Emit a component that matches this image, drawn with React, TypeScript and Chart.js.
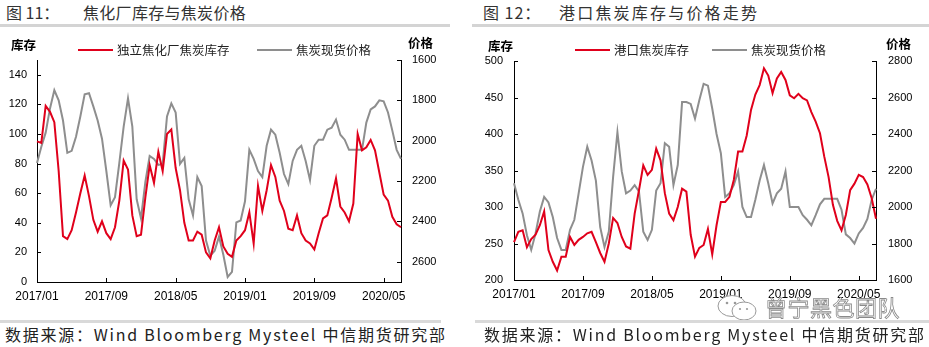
import React, { useEffect, useRef } from 'react';
import { Chart, registerables } from 'chart.js';

Chart.register(...registerables);

// Half-month categories from 2017/01 to 2020/07
const categories: string[] = (() => {
  const out: string[] = [];
  for (let i = 0; i <= 84; i++) {
    const m = Math.floor(i / 2);
    const y = 2017 + Math.floor(m / 12);
    const mm = (m % 12) + 1;
    out.push(`${y}/${String(mm).padStart(2, '0')}`);
  }
  return out;
})();
const tickIndexes = [0, 16, 32, 48, 64, 80];

// Fig 11: independent coking plant coke inventory (left axis) & coke spot price (right axis, reversed)
const plantInventory = [
  95, 94, 119, 115, 108, 75, 31, 29, 35, 47, 60, 72, 58, 42, 34, 41, 33, 29, 37, 55,
  82, 76, 45, 31, 32, 57, 79, 67, 88, 75, 100, 103, 77, 62, 40, 28, 28, 34, 32, 20,
  16, 28, 37, 24, 19, 17, 28, 31, 35, 47, 26, 65, 48, 62, 79, 71, 55, 48, 36, 35,
  45, 33, 28, 26, 22, 33, 43, 45, 57, 70, 51, 47, 41, 53, 100, 89, 91, 96, 89, 74,
  59, 55, 44, 39, 37,
];
const plantPrice = [
  2110, 2030, 1960, 1840, 1750, 1800, 1900, 2060, 2050, 1980, 1880, 1770, 1765, 1830, 1900, 1990, 2150, 2320, 2280, 2110,
  1930, 1790, 1930, 2290, 2385, 2205, 2075, 2090, 2120, 2115, 1880, 1815, 1860, 2115, 2085, 2290, 2370, 2180, 2225, 2495,
  2570, 2545, 2475, 2565, 2675, 2650, 2405, 2395, 2300, 2045, 2090, 2150, 2180, 2025, 1945, 1970, 2060, 2165, 2215, 2100,
  2045, 2025, 2100, 2195, 2025, 1995, 1995, 1945, 1935, 1895, 1970, 1995, 2045, 2045, 2045, 2045, 1910, 1845, 1830, 1800,
  1805, 1860, 1950, 2045, 2090,
];

// Fig 12: port coke inventory (left axis) & coke spot price (right axis)
const portInventory = [
  252, 266, 268, 245, 256, 262, 275, 294, 241, 225, 213, 232, 232, 259, 248, 255, 259, 264, 266, 252,
  237, 225, 250, 285, 278, 259, 246, 243, 291, 323, 357, 344, 351, 380, 364, 319, 291, 282, 300, 325,
  321, 262, 232, 244, 248, 270, 235, 275, 307, 307, 314, 337, 376, 376, 398, 433, 454, 467, 490, 480,
  456, 476, 485, 474, 453, 449, 455, 449, 446, 430, 417, 401, 369, 341, 303, 281, 268, 289, 323, 332,
  344, 341, 331, 312, 284,
];
const portPrice = [
  2130, 2040, 1965, 1845, 1765, 1855, 1975, 2055, 2025, 1945, 1830, 1765, 1765, 1875, 1930, 2075, 2220, 2330, 2255, 2145,
  1890, 1780, 1865, 2165, 2410, 2195, 2075, 2090, 2120, 2085, 1865, 1820, 1875, 2090, 2130, 2350, 2330, 2120, 2230, 2575,
  2575, 2565, 2485, 2585, 2675, 2665, 2540, 2400, 2295, 2055, 2075, 2120, 2195, 2000, 1945, 1945, 2040, 2145, 2230, 2130,
  2020, 2075, 2100, 2195, 2000, 2000, 2000, 1955, 1930, 1900, 1955, 2015, 2045, 2045, 2045, 2045, 1985, 1850, 1830, 1800,
  1855, 1885, 1935, 2040, 2100,
];

const RED = '#e0001b';
const GRAY = '#8e8e8e';
const TICK_FONT = "'Liberation Sans', Arial, sans-serif";
const CJK = "'Noto Sans CJK SC', 'Noto Sans', sans-serif";

const inwardTicks = {
  id: 'inwardTicks',
  afterDraw(chart: any) {
    const { ctx, chartArea: ca, scales } = chart;
    ctx.save();
    ctx.strokeStyle = '#000';
    ctx.lineWidth = 1;
    ctx.beginPath();
    const x = scales.x;
    for (const idx of tickIndexes) {
      const px = Math.round(x.getPixelForValue(idx)) + 0.5;
      ctx.moveTo(px, ca.bottom);
      ctx.lineTo(px, ca.bottom - 4);
    }
    const yL = scales.yL;
    for (const t of yL.ticks) {
      const py = Math.round(yL.getPixelForValue(t.value)) + 0.5;
      ctx.moveTo(ca.left, py);
      ctx.lineTo(ca.left + 4, py);
    }
    const yR = scales.yR;
    for (const t of yR.ticks) {
      const py = Math.round(yR.getPixelForValue(t.value)) + 0.5;
      ctx.moveTo(ca.right, py);
      ctx.lineTo(ca.right - 4, py);
    }
    ctx.stroke();
    ctx.restore();
  },
};

type Cfg = {
  inv: number[];
  price: number[];
  invLabel: string;
  leftMin: number; leftMax: number; leftStep: number;
  rightMin: number; rightMax: number; rightStep: number;
  reverse: boolean;
  leftW: number; rightW: number; bottomH: number; padTop: number;
  leftPad: number; rightPad: number;
};

const plainNumber = (v: any) => String(v);

function makeConfig(c: Cfg): any {
  return {
    type: 'line',
    data: {
      labels: categories,
      datasets: [
        { label: c.invLabel, data: c.inv, yAxisID: 'yL', borderColor: RED, borderWidth: 2, pointRadius: 0, tension: 0 },
        { label: '焦炭现货价格', data: c.price, yAxisID: 'yR', borderColor: GRAY, borderWidth: 2, pointRadius: 0, tension: 0 },
      ],
    },
    options: {
      animation: false,
      responsive: false,
      maintainAspectRatio: false,
      layout: { padding: { top: c.padTop, left: 0, right: 0, bottom: 0 } },
      plugins: { legend: { display: false }, tooltip: { enabled: false } },
      scales: {
        x: {
          type: 'category',
          offset: false,
          grid: { display: false, drawTicks: false },
          border: { display: true, color: '#000', width: 1 },
          ticks: {
            autoSkip: false,
            maxRotation: 0,
            minRotation: 0,
            padding: 7,
            color: '#000',
            font: { family: TICK_FONT, size: 12 },
            callback: (_v: any, i: number) => (tickIndexes.includes(i) ? categories[i] : ''),
          },
          afterFit: (s: any) => { s.height = c.bottomH; },
        },
        yL: {
          type: 'linear',
          position: 'left',
          min: c.leftMin,
          max: c.leftMax,
          grid: { display: false, drawTicks: false },
          border: { display: true, color: '#000', width: 1 },
          ticks: { stepSize: c.leftStep, includeBounds: false, padding: c.leftPad, color: '#000', font: { family: TICK_FONT, size: 11 }, callback: plainNumber },
          afterFit: (s: any) => { s.width = c.leftW; },
        },
        yR: {
          type: 'linear',
          position: 'right',
          min: c.rightMin,
          max: c.rightMax,
          reverse: c.reverse,
          grid: { display: false, drawTicks: false },
          border: { display: true, color: '#000', width: 1 },
          ticks: { stepSize: c.rightStep, includeBounds: false, padding: c.rightPad, color: '#000', font: { family: TICK_FONT, size: 11 }, callback: plainNumber },
          afterFit: (s: any) => { s.width = c.rightW; },
        },
      },
    },
    plugins: [inwardTicks],
  };
}

function ChartCanvas({ cfg, left, top, width, height }: { cfg: Cfg; left: number; top: number; width: number; height: number }) {
  const ref = useRef<HTMLCanvasElement>(null);
  useEffect(() => {
    if (!ref.current) return;
    const chart = new Chart(ref.current, makeConfig(cfg));
    return () => chart.destroy();
  }, []);
  return (
    <canvas ref={ref} width={width} height={height} style={{ position: 'absolute', left, top, width, height }} />
  );
}

const abs = (s: React.CSSProperties): React.CSSProperties => ({ position: 'absolute', whiteSpace: 'nowrap', ...s });

function LegendItem({ x, y, color, text }: { x: number; y: number; color: string; text: string }) {
  return (
    <>
      <div style={abs({ left: x, top: y - 1, width: 35, height: 2, background: color })} />
      <div style={abs({ left: x + 39, top: y - 9, fontFamily: CJK, fontSize: 12.5, lineHeight: '18px', color: '#222' })}>{text}</div>
    </>
  );
}

export default function App() {
  useEffect(() => {
    document.body.style.margin = '0';
    document.body.style.background = '#fff';
  }, []);

  const leftCfg: Cfg = {
    inv: plantInventory, price: plantPrice, invLabel: '独立焦化厂焦炭库存',
    leftMin: 0, leftMax: 150, leftStep: 20,
    rightMin: 1600, rightMax: 2700, rightStep: 200, reverse: true,
    leftW: 37, rightW: 59, bottomH: 33, padTop: 30, leftPad: 10, rightPad: 11,
  };
  const rightCfg: Cfg = {
    inv: portInventory, price: portPrice, invLabel: '港口焦炭库存',
    leftMin: 200, leftMax: 500, leftStep: 50,
    rightMin: 1600, rightMax: 2800, rightStep: 200, reverse: false,
    leftW: 54, rightW: 53, bottomH: 35, padTop: 31, leftPad: 11, rightPad: 12,
  };

  const titleStyle: React.CSSProperties = { fontFamily: CJK, fontSize: 16, lineHeight: '20px', color: '#333' };
  const sourceText = '数据来源：Wind Bloomberg Mysteel 中信期货研究部';

  return (
    <div style={{ position: 'relative', width: 929, height: 347, background: '#fff', overflow: 'hidden' }}>
      {/* titles */}
      <div style={abs({ ...titleStyle, left: 6, top: 2 })}>图 11：</div>
      <div style={abs({ ...titleStyle, left: 83, top: 2, letterSpacing: 0.3 })}>焦化厂库存与焦炭价格</div>
      <div style={abs({ ...titleStyle, left: 483, top: 2, letterSpacing: 1 })}>图 12：</div>
      <div style={abs({ ...titleStyle, left: 559, top: 2, letterSpacing: 2.2 })}>港口焦炭库存与价格走势</div>
      <div style={abs({ left: 0, top: 24, width: 450, height: 3, background: '#d4d4d4' })} />
      <div style={abs({ left: 472, top: 24, width: 457, height: 3, background: '#d4d4d4' })} />

      {/* charts */}
      <ChartCanvas cfg={leftCfg} left={0} top={30} width={460} height={285} />
      <ChartCanvas cfg={rightCfg} left={460} top={30} width={469} height={285} />

      {/* axis titles */}
      <div style={abs({ left: 11, top: 36, fontFamily: CJK, fontSize: 12.5, fontWeight: 700, lineHeight: '18px', color: '#000' })}>库存</div>
      <div style={abs({ left: 408, top: 34, fontFamily: CJK, fontSize: 12.5, fontWeight: 700, lineHeight: '18px', color: '#000' })}>价格</div>
      <div style={abs({ left: 488, top: 37, fontFamily: CJK, fontSize: 12.5, fontWeight: 700, lineHeight: '18px', color: '#000' })}>库存</div>
      <div style={abs({ left: 886, top: 35, fontFamily: CJK, fontSize: 12.5, fontWeight: 700, lineHeight: '18px', color: '#000' })}>价格</div>

      {/* legends */}
      <LegendItem x={78} y={50} color={RED} text="独立焦化厂焦炭库存" />
      <LegendItem x={257} y={50} color={GRAY} text="焦炭现货价格" />
      <LegendItem x={575} y={50} color={RED} text="港口焦炭库存" />
      <LegendItem x={712} y={50} color={GRAY} text="焦炭现货价格" />

      {/* watermark */}
      <svg style={abs({ left: 716, top: 294, width: 44, height: 28 })} viewBox="0 0 44 28">
        <ellipse cx="16" cy="12" rx="14" ry="10.5" fill="#fff" stroke="#999" strokeWidth="1" />
        <ellipse cx="28" cy="17" rx="12" ry="9" fill="#fff" stroke="#999" strokeWidth="1" />
        <circle cx="11" cy="9" r="1.3" fill="#999" />
        <circle cx="19" cy="9" r="1.3" fill="#999" />
        <circle cx="24" cy="15" r="1.1" fill="#999" />
        <circle cx="31" cy="15" r="1.1" fill="#999" />
      </svg>
      <div style={abs({ left: 765, top: 292, fontFamily: CJK, fontSize: 22, lineHeight: '28px', color: 'rgba(255,255,255,0.85)', WebkitTextStroke: '0.8px #8a8a8a', letterSpacing: 0.5 } as any)}>曾宁黑色团队</div>

      {/* source */}
      <div style={abs({ left: 0, top: 320, width: 441, height: 3, background: '#d9d9d9' })} />
      <div style={abs({ left: 475, top: 320, width: 454, height: 3, background: '#d9d9d9' })} />
      <div style={abs({ left: 5, top: 323, fontFamily: CJK, fontSize: 16, lineHeight: '22px', letterSpacing: 1.75, color: '#222' })}>{sourceText}</div>
      <div style={abs({ left: 484, top: 323, fontFamily: CJK, fontSize: 16, lineHeight: '22px', letterSpacing: 1.75, color: '#222' })}>{sourceText}</div>
    </div>
  );
}
